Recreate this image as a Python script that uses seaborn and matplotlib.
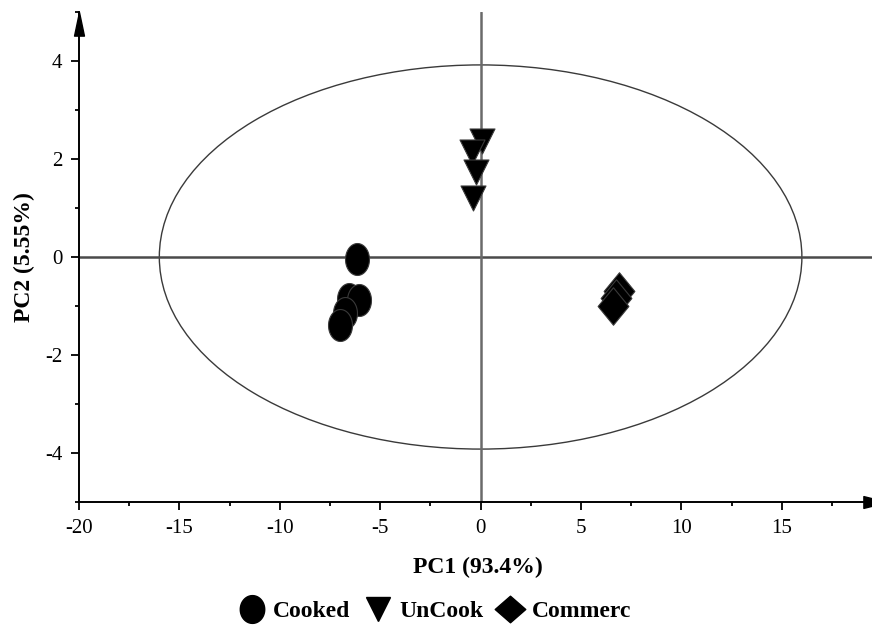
import numpy as np
import pandas as pd
import matplotlib
matplotlib.use("Agg")
import matplotlib.pyplot as plt
import seaborn as sns
from matplotlib.patches import Ellipse
from matplotlib.path import Path
from matplotlib.lines import Line2D
from matplotlib.ticker import MultipleLocator

# PCA scores
cooked_pc1 = [-6.15, -6.57, -6.08, -6.77, -6.99]
cooked_pc2 = [-0.04, -0.86, -0.88, -1.14, -1.39]
uncook_pc1 = [0.07, -0.43, -0.21, -0.36]
uncook_pc2 = [2.37, 2.14, 1.73, 1.20]
commerc_pc1 = [6.9, 6.75, 6.6]
commerc_pc2 = [-0.70, -0.84, -1.00]

groups = ["Cooked", "UnCook", "Commerc"]
x_ticks = [-20, -15, -10, -5, 0, 5, 10, 15]
y_ticks = [-4, -2, 0, 2, 4]
ellipse_width = 32.0
ellipse_height = 7.84

df = pd.DataFrame({
    "PC1": cooked_pc1 + uncook_pc1 + commerc_pc1,
    "PC2": cooked_pc2 + uncook_pc2 + commerc_pc2,
    "group": ["Cooked"] * len(cooked_pc1) + ["UnCook"] * len(uncook_pc1) + ["Commerc"] * len(commerc_pc1),
})

sns.set_style("white")
plt.rcParams["font.family"] = ["Liberation Serif", "DejaVu Serif"]
plt.rcParams["axes.unicode_minus"] = False
for key in ["text.color", "axes.labelcolor", "xtick.color", "ytick.color"]:
    plt.rcParams[key] = "black"


def make_marker(kind, w):
    if kind == "ellipse":
        t = np.linspace(0, 2 * np.pi, 60)
        verts = np.column_stack([w * np.cos(t), np.sin(t)])
        return Path(verts, closed=True)
    verts = [(0, 1), (w, 0), (0, -1), (-w, 0), (0, 1)]
    return Path(verts, closed=True)


circle_m = make_marker("ellipse", 0.75)
diamond_m = make_marker("diamond", 0.82)
markers = {"Cooked": circle_m, "UnCook": "v", "Commerc": diamond_m}
sizes = {"Cooked": 23 ** 2, "UnCook": 18 ** 2, "Commerc": 27 ** 2}

fig = plt.figure(figsize=(8.72, 6.30), dpi=100)
ax = fig.add_axes([79 / 872, 128 / 630, (887 - 79) / 872, 490 / 630])
ax.set_xlim(-20, -20 + (887 - 79) / 20.08)
ax.set_ylim(-5, 5)

# ellipse and centre cross
ax.add_patch(Ellipse((0, 0), ellipse_width, ellipse_height, fill=False,
                     edgecolor="#3a3a3a", lw=1.0, zorder=1))
ax.axhline(0, color="#4a4a4a", lw=1.8, zorder=1)
ax.axvline(0, color="#6a6a6a", lw=1.8, zorder=1)

for g in groups:
    sub = df[df["group"] == g]
    sns.scatterplot(data=sub, x="PC1", y="PC2", marker=markers[g], s=sizes[g],
                    color="black", edgecolor="#3a3a3a", linewidth=0.8,
                    legend=False, ax=ax, zorder=3)

sns.despine(ax=ax)
for side in ["left", "bottom"]:
    ax.spines[side].set_linewidth(1.4)
    ax.spines[side].set_color("black")

ax.set_xticks(x_ticks)
ax.set_yticks(y_ticks)
ax.xaxis.set_minor_locator(MultipleLocator(2.5))
ax.yaxis.set_minor_locator(MultipleLocator(1))
ax.tick_params(which="major", direction="out", length=6, width=1.3,
               labelsize=15, bottom=True, left=True, pad=6)
ax.tick_params(which="minor", direction="out", length=3, width=1.3,
               bottom=True, left=True)
ax.set_xlabel("")
ax.set_ylabel("")

# arrow heads on the axes
up = Path([(0, 0), (-0.21, -1), (0.21, -1), (0, 0)], closed=True)
right = Path([(0, 0), (-1, 0.25), (-1, -0.25), (0, 0)], closed=True)
ax.plot([0], [1], marker=up, markersize=34, color="black",
        transform=ax.transAxes, clip_on=False)
ax.plot([1], [0], marker=right, markersize=34, color="black",
        transform=ax.transAxes, clip_on=False)

fig.text(478 / 872, 1 - 567 / 630, "PC1 (93.4%)", ha="center", va="center",
         fontsize=17, fontweight="bold")
fig.text(24 / 872, 1 - 257 / 630, "PC2 (5.55%)", ha="center", va="center",
         rotation=90, fontsize=17, fontweight="bold")

handles = [
    Line2D([], [], ls="none", marker=make_marker("ellipse", 0.88), markersize=20, color="black"),
    Line2D([], [], ls="none", marker="v", markersize=17, color="black"),
    Line2D([], [], ls="none", marker=make_marker("diamond", 1.15), markersize=22, color="black"),
]
fig.legend(handles, groups, loc="center", bbox_to_anchor=(435 / 872, 1 - 611 / 630),
           ncol=3, frameon=False, handlelength=1.1, handletextpad=0.35,
           columnspacing=0.6, prop={"size": 17, "weight": "bold"})

fig.savefig("out.png", dpi=100)
